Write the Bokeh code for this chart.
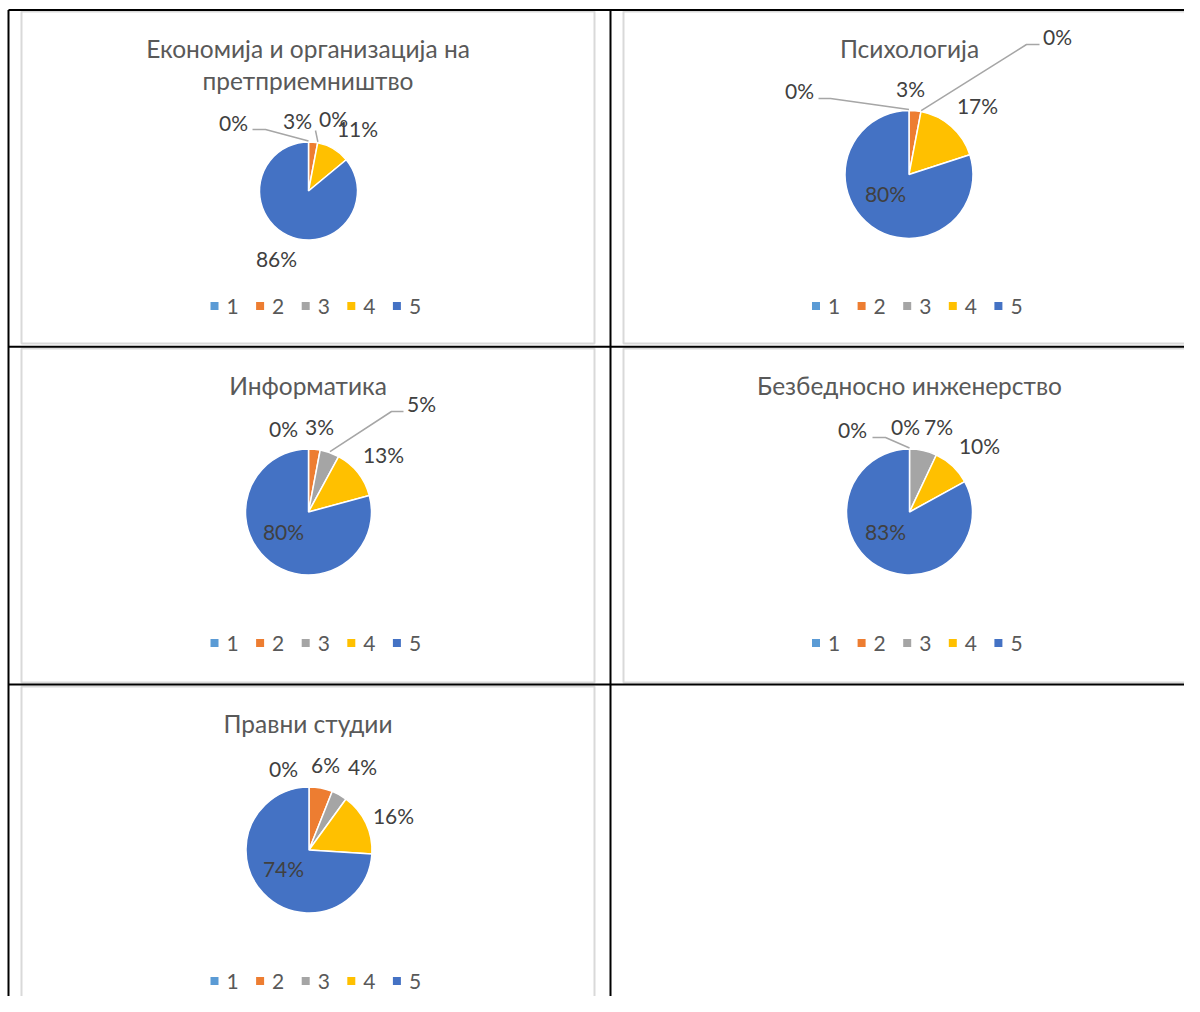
import math
from bokeh.plotting import figure
from bokeh.models import Range1d, ColumnDataSource
from bokeh.core.properties import value
from bokeh.embed import file_html
from bokeh.resources import INLINE

# ---------------- data ----------------
categories = ["1", "2", "3", "4", "5"]
chart_titles = [
    ["Економија и организација на", "претприемништво"],
    ["Психологија"],
    ["Информатика"],
    ["Безбедносно инженерство"],
    ["Правни студии"],
]
ekonomija = [0, 3, 0, 11, 86]
psihologija = [0, 3, 0, 17, 80]
informatika = [0, 3, 5, 13, 80]
bezbednosno = [0, 0, 7, 10, 83]
pravni = [0, 6, 4, 16, 74]
series = [ekonomija, psihologija, informatika, bezbednosno, pravni]

# ---------------- style / layout ----------------
colors = ["#5B9BD5", "#ED7D31", "#A5A5A5", "#FFC000", "#4472C4"]
FONT = value("Lato")
TITLE_COLOR = "#595959"
LABEL_COLOR = "#404040"

# chart boxes (x0, y0, x1, y1) in page pixels (y downwards)
boxes = [(21, 11, 594, 343), (623, 11, 1195, 343), (21, 348, 594, 682),
         (623, 348, 1195, 682), (21, 686, 594, 1040)]
# pie centre + radius (page pixels)
pies = [(308, 190.5, 49), (908.5, 174, 64), (308, 511.5, 63),
        (909, 511.5, 63), (308.5, 849.5, 63)]
# data-label offsets from pie centre, per category
label_offsets = [
    [(-75, -68.5), (-11, -70.5), (25, -72.5), (49, -62.5), (-32, 67.5)],
    [(-109.5, -84), (1.5, -86), (148.5, -138), (68.5, -69), (-23.5, 19)],
    [(-25, -83.5), (11, -85.5), (113, -108.5), (75, -57.5), (-25, 19.5)],
    [(-57, -82.5), (-4, -85.5), (29, -85.5), (70, -66.5), (-24, 19.5)],
    [(-25.5, -81.5), (16.5, -85.5), (53.5, -83.5), (84.5, -34.5), (-25.5, 18.5)],
]
# leader lines: (chart, category, start points) -> ends on pie edge at slice mid-angle
leaders = [
    (0, 0, [(252, 129), (265, 129)]),
    (0, 2, [(315, 130)]),
    (1, 0, [(818, 98), (830, 98)]),
    (1, 2, [(1039, 44), (1026, 44)]),
    (2, 2, [(403, 411), (391, 411)]),
    (3, 0, [(872, 437), (885, 437)]),
]

W, H = 1184, 996
p = figure(width=W, height=H, output_backend="svg", toolbar_location=None,
           x_range=Range1d(0, W), y_range=Range1d(-H, 0),
           x_axis_type=None, y_axis_type=None, min_border=0)
p.grid.visible = False
p.outline_line_color = None
p.background_fill_color = "white"


def Y(y):
    return -y


# chart boxes
p.quad(left=[b[0] for b in boxes], right=[b[2] for b in boxes],
       top=[Y(b[1]) for b in boxes], bottom=[Y(b[3]) for b in boxes],
       fill_color="white", line_color="#D9D9D9", line_width=2)

# table lines
p.segment(x0=[8, 8, 8, 8, 610], y0=[Y(9.5), Y(346.3), Y(684), Y(9.5), Y(9.5)],
          x1=[1200, 1200, 1200, 8, 610], y1=[Y(9.5), Y(346.3), Y(684), Y(1012), Y(1012)],
          line_color="black", line_width=2)

for ci, vals in enumerate(series):
    cx, cy, r = pies[ci]
    total = float(sum(vals))
    cum = 0.0
    starts, ends, mids = [], [], []
    for v in vals:
        f = v / total
        starts.append(math.pi / 2 - 2 * math.pi * cum)
        mids.append(2 * math.pi * (cum + f / 2))
        cum += f
        ends.append(math.pi / 2 - 2 * math.pi * cum)
    # zero-valued slices have no area (a zero-width wedge would draw a full disc)
    keep = [i for i, v in enumerate(vals) if v > 0]
    src = ColumnDataSource(dict(cat=[categories[i] for i in keep],
                                val=[vals[i] for i in keep],
                                start=[starts[i] for i in keep],
                                end=[ends[i] for i in keep],
                                color=[colors[i] for i in keep]))
    p.wedge(x=cx, y=Y(cy), radius=r, start_angle="start", end_angle="end",
            direction="clock", fill_color="color", line_color="white",
            line_width=1.5, source=src)

    # data labels
    lab = ColumnDataSource(dict(
        x=[cx + o[0] for o in label_offsets[ci]],
        y=[Y(cy + o[1]) for o in label_offsets[ci]],
        t=["%d%%" % v for v in vals]))
    p.text(x="x", y="y", text="t", source=lab, text_font=FONT, text_font_size="21px",
           text_color=LABEL_COLOR, text_align="center", text_baseline="middle")

    # leader lines
    for (lc, cat, pts) in leaders:
        if lc != ci:
            continue
        a = mids[cat]
        ex = cx + (r + 1) * math.sin(a)
        ey = cy - (r + 1) * math.cos(a)
        xs = [q[0] for q in pts] + [ex]
        ys = [Y(q[1]) for q in pts] + [Y(ey)]
        p.line(xs, ys, line_color="#A6A6A6", line_width=1.5)

    # title
    b = boxes[ci]
    bx = (b[0] + b[2]) / 2.0
    tl = chart_titles[ci]
    p.text(x=[bx] * len(tl), y=[Y(b[1] + 37 + 32 * k) for k in range(len(tl))], text=tl,
           text_font=FONT, text_font_size="24.5px", text_color=TITLE_COLOR,
           text_align="center", text_baseline="middle")

    # legend
    lx = [bx - 93.5 + 45.6 * k for k in range(len(categories))]
    ly = Y(b[1] + 294.5)
    p.scatter(x=lx, y=[ly] * len(lx), marker="square", size=8, fill_color=colors, line_color=None)
    p.text(x=[v + 12 for v in lx], y=[ly] * len(lx), text=categories, text_font=FONT,
           text_font_size="21px", text_color=TITLE_COLOR, text_align="left",
           text_baseline="middle")

open("out.html", "w").write(file_html(p, INLINE))
